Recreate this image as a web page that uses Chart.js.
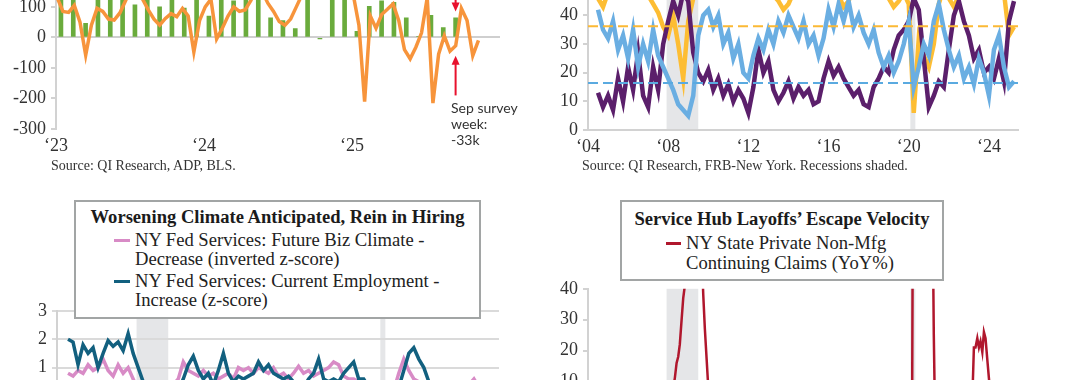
<!DOCTYPE html>
<html>
<head>
<meta charset="utf-8">
<script src="https://cdn.jsdelivr.net/npm/chart.js@4.4.1/dist/chart.umd.min.js"></script>
<style>
  html, body { margin: 0; padding: 0; background: #fff; }
  body { position: relative; width: 1080px; height: 380px; overflow: hidden; font-family: "Liberation Serif", "Times New Roman", serif; color: #222; }
  canvas { position: absolute; }
  .txt { position: absolute; white-space: nowrap; line-height: 20px; }
  .src { font-size: 14px; color: #333; }
  .box { position: absolute; box-sizing: border-box; border: 2px solid #a2a5a5; background: #fff; }
  .ttl { font-weight: bold; font-size: 18.6px; text-align: center; color: #1b1b1b; }
  .leg { font-size: 18.6px; color: #222; }
  .sw { position: absolute; height: 3px; }
  .note { font-family: Lato, "Open Sans", sans-serif; font-size: 14px; line-height: 16px; color: #333; }
</style>
</head>
<body>
<canvas id="payrolls" width="540" height="229" style="left:0;top:-70px"></canvas>
<canvas id="nyShares" width="540" height="189" style="left:540px;top:-29px"></canvas>
<canvas id="nyZscores" width="540" height="202" style="left:0;top:295px"></canvas>
<canvas id="nyClaims" width="540" height="186" style="left:540px;top:273px"></canvas>

<div class="txt src" style="left:51px;top:156px">Source: QI Research, ADP, BLS.</div>
<div class="txt src" style="left:582px;top:156px">Source: QI Research, FRB-New York. Recessions shaded.</div>
<div class="txt note" style="left:451px;top:100px">Sep survey<br>week:<br>-33k</div>

<div class="box" style="left:74px;top:200px;width:407px;height:119px"></div>
<div class="txt ttl" style="left:74px;top:207px;width:407px">Worsening Climate Anticipated, Rein in Hiring</div>
<div class="sw" style="left:114px;top:239px;width:16px;background:#d88bc6"></div>
<div class="txt leg" style="left:135px;top:230px">NY Fed Services: Future Biz Climate -</div>
<div class="txt leg" style="left:135px;top:249px">Decrease (inverted z-score)</div>
<div class="sw" style="left:114px;top:280px;width:16px;background:#12607f"></div>
<div class="txt leg" style="left:135px;top:271px">NY Fed Services: Current Employment -</div>
<div class="txt leg" style="left:135px;top:290px">Increase (z-score)</div>

<div class="box" style="left:620px;top:200px;width:324px;height:81px"></div>
<div class="txt ttl" style="left:620px;top:209px;width:324px">Service Hub Layoffs’ Escape Velocity</div>
<div class="sw" style="left:666px;top:242px;width:15px;background:#b0172d"></div>
<div class="txt leg" style="left:686px;top:233px">NY State Private Non-Mfg</div>
<div class="txt leg" style="left:686px;top:253px">Continuing Claims (YoY%)</div>

<script>
// ---- panel 1: payrolls (k), months since Jan 2023 ----
const payrollYearTicks = [0, 12, 24];
const payrollYearLabels = ["‘23", "‘24", "‘25"];
// BLS monthly change, Jan 2023 .. Sep 2025 (tall bars run off the top)
const blsMonthly = [180, 160, 46, 150, 140, 130, 107, 140, 100, 130, 96, 140,
                    70, 150, 120, 140, 130, 64, 55, 29, 140, -5, 160, 150,
                    20, 102, 120, 115, 64, 3, 72, 32, 64];
// ADP weekly estimate, sampled every other week from early Jan 2023
const adpStartMonth = 0.1;
const adpBiweekly = [130, 85, 82, 105, 50, -58, 40, 95, 85, 60,
                     57, 80, 120, 160, 170, 125, 90, 60, 40, 62,
                     78, 68, 95, 70, -48, 55, 100, 125, -5, 30,
                     70, 100, 85, 90, 120, 160, 150, 112, 85, 52,
                     40, 60, 100, 140, 180, 200, 190, 170, 190, 180,
                     200, 170, 140, 40, -210, 70, 30, 75, 92, 110,
                     55, -40, -70, -32, 15, 130, -215, -55, 5, -45,
                     -27, 95, 55, -60, -10];
const surveyMonth = 32.4;

// ---- panel 2: NY Fed services shares (%), quarterly from mid-2004 ----
const nyYearTicks = [2004, 2008, 2012, 2016, 2020, 2024];
const nyYearLabels = ["‘04", "‘08", "‘12", "‘16", "‘20", "‘24"];
const nyStart = 2004.5;
const purpleShare = [13, 8,
  12, 7, 18, 10,   22, 14, 27, 12,   8, 22, 14, 30,   38, 45, 40, 48,
  45, 27, 20, 17,  21, 14, 18, 12,   16, 10, 14, 11,  6, 15, 28, 20,
  24, 14, 10, 13,  17, 11, 15, 12,   14, 9, 10, 18,   24, 19, 22, 18,
  15, 12, 14, 9,   8, 15, 18, 22,    20, 28, 33, 35,  38, 46, 42, 25,
  8, 12, 17, 15,   28, 40, 45, 38,   33, 25, 28, 20,  22, 18, 25, 17,
  38, 45];
const blueShare = [42, 35,
  32, 38, 28, 33,  25, 35, 22, 30,   24, 35, 26, 22,  18, 14, 9, 7,
  5, 12, 33, 40,   42, 36, 40, 30,   34, 25, 30, 20,  18, 26, 32, 28,
  35, 30, 38, 34,  40, 36, 32, 38,   30, 33, 26, 32,  42, 36, 44, 38,
  45, 36, 40, 34,  30, 35, 27, 22,   26, 20, 24, 30,  38, 15, 22, 30,
  26, 38, 44, 35,  28, 22, 26, 18,   22, 16, 25, 20,  12, 28, 33, 22,
  15, 17];
const yellowShare = [46, 43,
  48, 52, 50, 55,  52, 50, 54, 50,   47, 44, 41, 36,  33, 40, 30, 18,
  38, 46, 52, 55,  58, 55, 57, 54,   56, 52, 50, 53,  55, 52, 50, 48,
  51, 47, 45, 42,  44, 48, 52, 55,   50, 53, 56, 52,  48, 50, 47, 43,
  45, 50, 53, 56,  58, 55, 52, 49,   46, 43, 45, 48,  44, 6, 32, 26,
  22, 30, 44, 50,  46, 43, 47, 52,   55, 50, 48, 52,  55, 50, 47, 48,
  33, 36];
const yellowAvg = 36.2;
const blueAvg = 16.4;
const nyRange = [2004, 2025.45];

// ---- panel 3: z-scores, quarterly from mid-2004 ----
const bizClimateZ = [0.8, 0.7,
  0.9, 0.8, 1.1, 0.9,  1.0, 1.3, 0.9, 0.7,  1.1, 0.8, 1.0, 0.6,  0.2, -0.5, -1.5, -2.0,
  -1.2, -0.5, 0.0, 0.4, 0.6, 1.2, 0.9, 0.8, 0.7, 0.9, 0.7, 0.8,  0.6, 0.7, 0.8, 0.6,
  1.0, 0.9, 1.0, 0.8,  1.0, 0.9, 0.8, 1.0,  0.7, 0.8, 0.6, 0.8,  1.05, 0.8, 0.9, 0.7,
  0.8, 0.9, 1.0, 1.2,  1.1, 0.7, 0.6, 0.6,  0.5, 0.3, 0.0, -0.2, -0.5, -2.5, -1.0, 0.2,
  0.8, 1.3, 0.9, 0.6,  0.5, 0.2, -0.3, -0.6, -0.4, -0.8, -0.5, -0.2, 0.1, 0.3, 0.4, 0.6,
  0.3, 0.2];
const employmentZ = [2.0, 1.9,
  1.1, 1.8, 1.5, 1.7,  1.0, 1.5, 1.95, 1.75, 1.9, 1.6, 2.2, 1.5,  1.0, 0.5, 0.0, -0.5,
  -1.0, -1.2, -0.8, -0.2, 0.2, 0.6, 1.1, 1.4, 0.9, 0.6, 0.8, 0.4, 0.9, 1.5, 0.8, 0.5,
  0.7, 0.6, 0.7, 0.8,  1.2, 0.9, 1.1, 0.8,  0.7, 0.6, 0.7, 0.5,  0.4, 0.3, 0.6, 0.8,
  1.3, 0.6, 0.5, 0.6,  0.5, 0.8, 1.0, 1.2,  0.6, 0.6, 0.3, 0.0,  -0.5, -2.0, -0.8, 0.0,
  0.3, 0.9, 1.5, 1.7,  1.3, 1.0, 0.5, 0.2,  0.0, -0.2, 0.1, -0.3, 0.0, -0.4, -0.1, -0.6,
  -0.3, -0.8];
const zRange = [2003.95, 2026.0];

// ---- panel 4: NY continuing claims YoY% ----
const claimsDates = [2004.5, 2005, 2005.5, 2006, 2006.5, 2007, 2007.5, 2008, 2008.25, 2008.33,
  2008.42, 2008.5, 2008.58, 2008.67, 2008.75, 2008.83, 2009, 2009.25, 2009.5, 2009.67,
  2009.75, 2009.83, 2009.92, 2010, 2010.5, 2011, 2011.5, 2012, 2013, 2014,
  2015, 2016, 2017, 2018, 2019, 2020, 2020.17, 2020.25, 2020.5, 2020.75,
  2021, 2021.17, 2021.25, 2021.33, 2021.5, 2022, 2022.5, 2022.92, 2023.08, 2023.17,
  2023.25, 2023.33, 2023.42, 2023.5, 2023.58, 2023.67, 2023.75, 2023.83, 2023.92, 2024,
  2024.08, 2024.25, 2024.5, 2025, 2025.33];
const claimsYoY = [-5, -8, 2, -3, -6, 0, 3, 6, 8, 11,
  16, 18, 22, 30, 37, 41, 70, 95, 80, 52,
  38, 27, 17, 8, -5, -10, -8, -4, -6, -10,
  -8, -5, -7, -6, -3, 0, 5, 150, 300, 250,
  150, 80, 25, -10, -30, -25, -10, -5, 0, 4,
  21, 21, 24, 21, 23, 19.5, 26, 24, 17, 11,
  5, -5, -8, -10, -6];

const recessionStarts = [2007.92, 2020.08];
const recessionEnds = [2009.5, 2020.33];

Chart.defaults.font.family = "'Liberation Serif', 'Times New Roman', serif";
Chart.defaults.font.size = 18;
Chart.defaults.color = "#333";

const tickFont = { size: 18, lineHeight: 1.2 };
const axisGray = "#d2d2d2";

const recessionShade = {
  id: "recessionShade",
  beforeDraw(chart, args, opts) {
    if (!opts.on) return;
    const { ctx, chartArea, scales } = chart;
    ctx.save();
    ctx.fillStyle = "#e5e6e8";
    recessionStarts.forEach((s, i) => {
      const x0 = scales.x.getPixelForValue(s);
      const x1 = scales.x.getPixelForValue(recessionEnds[i]);
      ctx.fillRect(x0, chartArea.top, x1 - x0, chartArea.bottom - chartArea.top);
    });
    ctx.restore();
  }
};

const surveyArrows = {
  id: "surveyArrows",
  afterDatasetsDraw(chart, args, opts) {
    if (!opts.arrows) return;
    const { ctx, scales } = chart;
    const px = scales.x.getPixelForValue(opts.month);
    ctx.save();
    ctx.strokeStyle = opts.color;
    ctx.fillStyle = opts.color;
    ctx.lineWidth = 2;
    opts.arrows.forEach(a => {
      const y0 = scales.y.getPixelForValue(a.from);
      const y1 = scales.y.getPixelForValue(a.to);
      const dir = Math.sign(y1 - y0);
      ctx.beginPath();
      ctx.moveTo(px, y0);
      ctx.lineTo(px, y1 - dir * 6);
      ctx.stroke();
      ctx.beginPath();
      ctx.moveTo(px, y1);
      ctx.lineTo(px - 4, y1 - dir * 9);
      ctx.lineTo(px + 4, y1 - dir * 9);
      ctx.closePath();
      ctx.fill();
    });
    ctx.restore();
  }
};
Chart.register(recessionShade, surveyArrows);

function quarterly(values, start) {
  return values.map((v, i) => ({ x: start + i * 0.25, y: v }));
}

function yAxis(width, min, max, step, extra) {
  return Object.assign({
    min: min,
    max: max,
    afterFit: s => { s.width = width; },
    ticks: { stepSize: step, padding: 5, font: tickFont, color: "#333" },
    grid: { drawOnChartArea: false, tickLength: 5, tickColor: axisGray, lineWidth: 2 },
    border: { color: axisGray, width: 2 }
  }, extra || {});
}

const baseOptions = {
  responsive: false,
  animation: false,
  events: [],
  plugins: { legend: { display: false }, tooltip: { enabled: false } }
};

// panel 1
new Chart(document.getElementById("payrolls"), {
  type: "bar",
  data: {
    datasets: [
      {
        type: "line",
        data: adpBiweekly.map((v, i) => ({ x: adpStartMonth + i * 12 / 26, y: v })),
        borderColor: "#f7943b",
        borderWidth: 3.5,
        pointRadius: 0,
        order: 0
      },
      {
        type: "bar",
        data: blsMonthly.map((v, i) => ({ x: i + 0.4, y: v })),
        backgroundColor: "#6aab3c",
        barThickness: 4,
        order: 1
      }
    ]
  },
  options: Object.assign({}, baseOptions, {
    layout: { padding: { top: 12, right: 40, left: 0, bottom: 0 } },
    plugins: Object.assign({}, baseOptions.plugins, {
      surveyArrows: {
        month: surveyMonth,
        color: "#e8112d",
        arrows: [{ from: 200, to: 85 }, { from: -190, to: -60 }]
      }
    }),
    scales: {
      x: {
        type: "linear", min: 0, max: 36, offset: false,
        grid: { display: false, drawTicks: false },
        border: { display: false },
        afterBuildTicks: s => { s.ticks = payrollYearTicks.map(v => ({ value: v })); },
        afterFit: s => { s.height = 30; },
        ticks: {
          autoSkip: false, maxRotation: 0, padding: 6, font: tickFont, color: "#333",
          callback: (v, i) => payrollYearLabels[i]
        }
      },
      y: yAxis(56, -300, 300, 100, {
        grid: {
          drawOnChartArea: true, tickLength: 5, tickColor: axisGray, lineWidth: 2,
          color: c => (c.tick && c.tick.value === 0 ? "#cfcfcf" : "rgba(0,0,0,0)")
        }
      })
    }
  })
});

// panel 2
new Chart(document.getElementById("nyShares"), {
  type: "line",
  data: {
    datasets: [
      { data: [{ x: nyRange[0], y: yellowAvg }, { x: nyRange[1], y: yellowAvg }], borderColor: "#fbb935", borderWidth: 2, borderDash: [10, 5], pointRadius: 0, order: 0 },
      { data: [{ x: nyRange[0], y: blueAvg }, { x: nyRange[1], y: blueAvg }], borderColor: "#5aaae0", borderWidth: 2, borderDash: [10, 5], pointRadius: 0, order: 0 },
      { data: quarterly(blueShare, nyStart), borderColor: "#6aaee2", borderWidth: 4.5, pointRadius: 0, order: 1 },
      { data: quarterly(purpleShare, nyStart), borderColor: "#5b1f6b", borderWidth: 4.5, pointRadius: 0, order: 2 },
      { data: quarterly(yellowShare, nyStart), borderColor: "#fdbd33", borderWidth: 4.5, pointRadius: 0, order: 3 }
    ]
  },
  options: Object.assign({}, baseOptions, {
    layout: { padding: { top: 12, right: 62, left: 0, bottom: 0 } },
    plugins: Object.assign({}, baseOptions.plugins, { recessionShade: { on: true } }),
    scales: {
      x: {
        type: "linear", min: nyRange[0], max: nyRange[1],
        grid: { display: false, drawTicks: false },
        border: { display: true, color: axisGray, width: 2 },
        afterBuildTicks: s => { s.ticks = nyYearTicks.map(v => ({ value: v })); },
        afterFit: s => { s.height = 30; },
        ticks: {
          autoSkip: false, maxRotation: 0, padding: 6, font: tickFont, color: "#333",
          callback: (v, i) => nyYearLabels[i]
        }
      },
      y: yAxis(48, 0, 50, 10)
    }
  })
});

// panel 3
new Chart(document.getElementById("nyZscores"), {
  type: "line",
  data: {
    datasets: [
      { data: quarterly(employmentZ, nyStart), borderColor: "#12607f", borderWidth: 3.5, pointRadius: 0, order: 0 },
      { data: quarterly(bizClimateZ, nyStart), borderColor: "#d88bc6", borderWidth: 3.5, pointRadius: 0, order: 1 }
    ]
  },
  options: Object.assign({}, baseOptions, {
    layout: { padding: { top: 12, right: 41, left: 0, bottom: 15 } },
    plugins: Object.assign({}, baseOptions.plugins, { recessionShade: { on: true } }),
    scales: {
      x: { type: "linear", display: false, min: zRange[0], max: zRange[1] },
      y: yAxis(57, -3, 3, 1, {
        grid: { drawOnChartArea: true, color: "#dadada", tickColor: "#dadada", tickLength: 5, lineWidth: 2 }
      })
    }
  })
});

// panel 4
new Chart(document.getElementById("nyClaims"), {
  type: "line",
  data: {
    datasets: [
      {
        data: claimsDates.map((d, i) => ({ x: d, y: claimsYoY[i] })),
        borderColor: "#b0172d", borderWidth: 2.5, pointRadius: 0, clip: 0
      }
    ]
  },
  options: Object.assign({}, baseOptions, {
    layout: { padding: { top: 12, right: 62, left: 0, bottom: 15 } },
    plugins: Object.assign({}, baseOptions.plugins, { recessionShade: { on: true } }),
    scales: {
      x: { type: "linear", display: false, min: nyRange[0], max: nyRange[1] },
      y: yAxis(48, -10, 40, 10)
    }
  })
});
</script>
</body>
</html>
